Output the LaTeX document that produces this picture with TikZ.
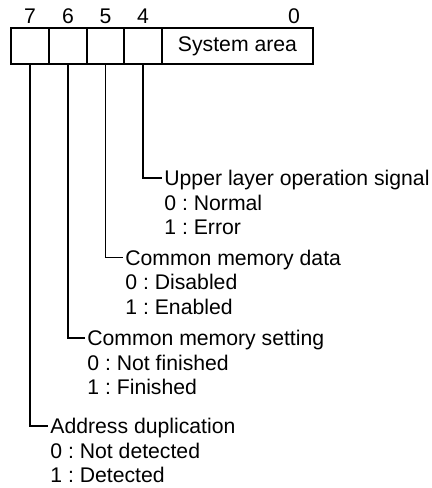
\documentclass[tikz,border=0pt]{standalone}
\usepackage{fontspec}
\setmainfont{Liberation Sans}
\frenchspacing
\begin{document}
\begin{tikzpicture}[x=0.5pt,y=-0.5pt,
  every node/.style={font=\fontsize{10.6}{12.25}\selectfont, inner sep=0pt, text height=7.5pt, text depth=0pt},
  cell/.style={draw, line width=0.7pt, minimum height=18pt, text height=, text depth=},
  lbl/.style={anchor=west},
  conn/.style={line width=0.7pt}]
\useasboundingbox (0,0) rectangle (432,488);
% register cells
\node[cell, minimum width=19pt] (c7) at (30,46) {};
\node[cell, minimum width=19pt] (c6) at (68,46) {};
\node[cell, minimum width=18.5pt] (c5) at (105.5,46) {};
\node[cell, minimum width=19pt] (c4) at (143,46) {};
\node[cell, minimum width=75.5pt] (sys) at (237.5,46) {System area};
% bit numbers
\node (b7) at (30,16) {7};
\node (b6) at (68,16) {6};
\node (b5) at (105.5,16) {5};
\node (b4) at (143,16) {4};
\node (b0) at (294,16) {0};
% bit 4
\node[lbl] (t4) at (164,178) {Upper layer operation signal};
\node[lbl] (t4a) at (164,202.5) {0 : Normal};
\node[lbl] (t4b) at (164,227) {1 : Error};
% bit 5
\node[lbl] (t5) at (125,257.5) {Common memory data};
\node[lbl] (t5a) at (125,282) {0 : Disabled};
\node[lbl] (t5b) at (125,306.5) {1 : Enabled};
% bit 6
\node[lbl] (t6) at (87,338) {Common memory setting};
\node[lbl] (t6a) at (87,362.5) {0 : Not finished};
\node[lbl] (t6b) at (87,387) {1 : Finished};
% bit 7
\node[lbl] (t7) at (50,426) {Address duplication};
\node[lbl] (t7a) at (50,450.5) {0 : Not detected};
\node[lbl] (t7b) at (50,475) {1 : Detected};
% connectors
\draw[conn] (c4.south) |- ([xshift=-1pt]t4.west);
\draw[conn] (c5.south) |- ([xshift=-1pt]t5.west);
\draw[conn] (c6.south) |- ([xshift=-1pt]t6.west);
\draw[conn] (c7.south) |- ([xshift=-1pt]t7.west);
\end{tikzpicture}
\end{document}
